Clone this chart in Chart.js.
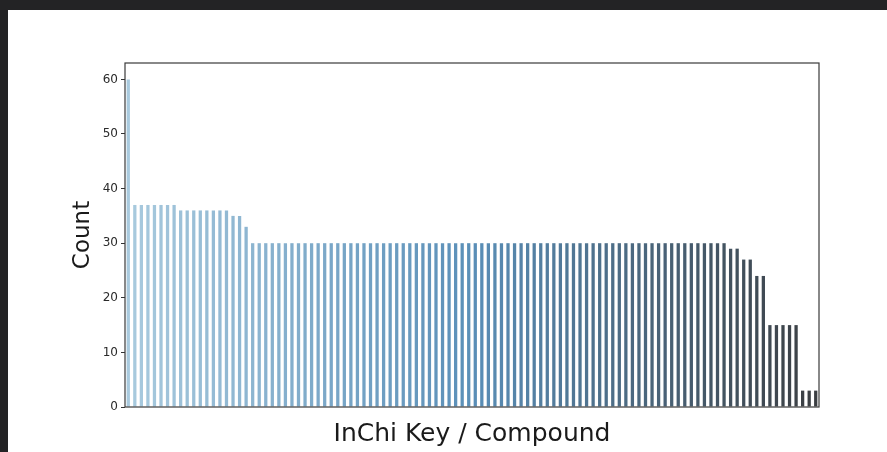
<!DOCTYPE html>
<html>
<head>
<meta charset="utf-8">
<script src="https://cdn.jsdelivr.net/npm/chart.js@4/dist/chart.umd.min.js"></script>
<style>
  html, body { margin: 0; padding: 0; }
  body { width: 887px; height: 452px; background: #232325; overflow: hidden; position: relative; }
  #panel { position: absolute; left: 8px; top: 10px; width: 879px; height: 442px; background: #ffffff; }
  #panel canvas { display: block; }
</style>
</head>
<body>
<div id="panel"><canvas id="chart"></canvas></div>
<script>
// Number of records per compound, sorted from most to least frequent
const counts = [
  60,
  37, 37, 37, 37, 37, 37, 37,
  36, 36, 36, 36, 36, 36, 36, 36,
  35, 35,
  33,
  30, 30, 30, 30, 30, 30, 30, 30, 30, 30,
  30, 30, 30, 30, 30, 30, 30, 30, 30, 30,
  30, 30, 30, 30, 30, 30, 30, 30, 30, 30,
  30, 30, 30, 30, 30, 30, 30, 30, 30, 30,
  30, 30, 30, 30, 30, 30, 30, 30, 30, 30,
  30, 30, 30, 30, 30, 30, 30, 30, 30, 30,
  30, 30, 30, 30, 30, 30, 30, 30, 30, 30,
  30, 30, 30,
  29, 29,
  27, 27,
  24, 24,
  15, 15, 15, 15, 15,
  3, 3, 3
];

// Compound identifiers (x tick labels are hidden on this plot)
const compounds = counts.map((_, i) => 'compound_' + (i + 1));

// Y axis ticks
const yTicks = [0, 10, 20, 30, 40, 50, 60];
const yMax = 63;

// Light blue -> steel blue -> dark grey blend used to colour the bars
const paletteStops = ['#a9cade', '#5a8fb8', '#3b3e42'];

function hexToRgb(h) {
  const v = parseInt(h.slice(1), 16);
  return [(v >> 16) & 255, (v >> 8) & 255, v & 255];
}
function blendPalette(stops, n) {
  const rgb = stops.map(hexToRgb);
  const segs = rgb.length - 1;
  const out = [];
  for (let i = 0; i < n; i++) {
    const t = n === 1 ? 0 : i / (n - 1);
    let s = Math.min(Math.floor(t * segs), segs - 1);
    const f = t * segs - s;
    const a = rgb[s], b = rgb[s + 1];
    const c = a.map((v, k) => Math.round(v + (b[k] - v) * f));
    out.push('rgb(' + c.join(',') + ')');
  }
  return out;
}
const barColors = blendPalette(paletteStops, counts.length);

// Draws the four-sided frame around the plotting area
const frame = {
  id: 'frame',
  afterDatasetsDraw(chart) {
    const { ctx, chartArea: a } = chart;
    ctx.save();
    ctx.strokeStyle = '#3a3a3a';
    ctx.lineWidth = 1.2;
    ctx.strokeRect(a.left, a.top, a.right - a.left, a.bottom - a.top);
    ctx.restore();
  }
};

new Chart(document.getElementById('chart'), {
  type: 'bar',
  data: {
    labels: compounds,
    datasets: [{
      data: counts,
      backgroundColor: barColors,
      borderWidth: 0,
      categoryPercentage: 1.0,
      barPercentage: 0.5
    }]
  },
  options: {
    responsive: true,
    maintainAspectRatio: false,
    animation: false,
    layout: { padding: { top: 53, right: 68, left: 0, bottom: 0 } },
    plugins: {
      legend: { display: false },
      tooltip: { enabled: false }
    },
    scales: {
      x: {
        grid: { display: false },
        border: { display: false },
        ticks: { display: false },
        title: {
          display: true,
          text: 'InChi Key / Compound',
          color: '#1a1a1a',
          font: { family: 'DejaVu Sans', size: 25 },
          padding: { top: 0, bottom: 3 }
        },
        afterFit(scale) { scale.height = 45; }
      },
      y: {
        min: 0,
        max: yMax,
        afterBuildTicks(scale) { scale.ticks = yTicks.map(v => ({ value: v })); },
        ticks: {
          color: '#2a2a2a',
          font: { family: 'DejaVu Sans', size: 12 },
          padding: 3
        },
        grid: { drawOnChartArea: false, drawTicks: true, tickLength: 4, color: '#333333' },
        border: { display: false },
        title: {
          display: true,
          text: 'Count',
          color: '#1a1a1a',
          font: { family: 'DejaVu Sans', size: 23 },
          padding: { top: 61, bottom: 0 }
        },
        afterFit(scale) { scale.width = 117; }
      }
    }
  },
  plugins: [frame]
});
</script>
</body>
</html>
